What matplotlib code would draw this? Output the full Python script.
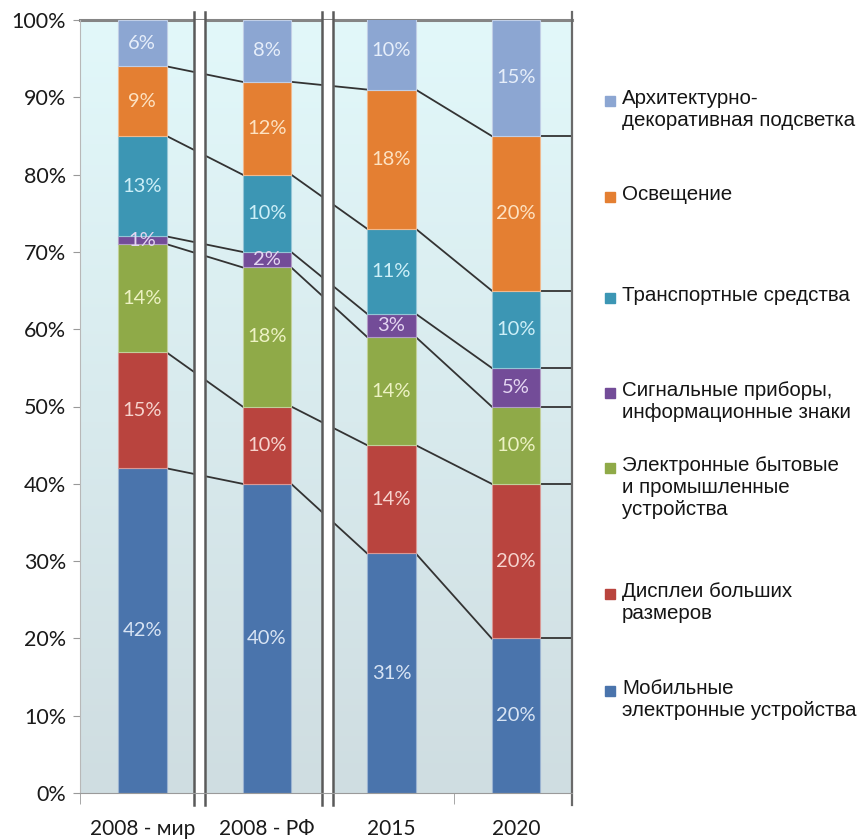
import numpy as np
import matplotlib.pyplot as plt
from matplotlib.colors import to_rgb

categories = ['2008 - мир', '2008 - РФ', '2015', '2020']

mobile = [42, 40, 31, 20]
displays = [15, 10, 14, 20]
electronics = [14, 18, 14, 10]
signals = [1, 2, 3, 5]
transport = [13, 10, 11, 10]
lighting = [9, 12, 18, 20]
architectural = [6, 8, 10, 15]

series_names = [
    'Мобильные\nэлектронные устройства',
    'Дисплеи больших\nразмеров',
    'Электронные бытовые\nи промышленные\nустройства',
    'Сигнальные приборы,\nинформационные знаки',
    'Транспортные средства',
    'Освещение',
    'Архитектурно-\nдекоративная подсветка',
]
series = [mobile, displays, electronics, signals, transport, lighting, architectural]
colors = ['#4A74AC', '#B9443E', '#8FAA48', '#734C98', '#3C96B4', '#E47F32', '#8CA6D2']
label_colors = ['#D8E4F4', '#F6D4CE', '#EDF2C4', '#E4D6F2', '#CDEFF8', '#FDE2C2', '#E6EEFA']

pct_font = ['Lato', 'Open Sans', 'DejaVu Sans']
legend_font = ['Liberation Sans', 'DejaVu Sans']

W, H = 861, 840
fig = plt.figure(figsize=(W / 100, H / 100), dpi=100)
ax = fig.add_axes([80 / W, 47 / H, 492 / W, 773 / H])

x0, x1 = -0.5, 3.45
ax.set_xlim(x0, x1)
ax.set_ylim(0, 100)
width = 0.39
x = np.arange(len(categories))

# soft vertical gradient behind the bars
top_c = np.array([226, 248, 250]) / 255
bot_c = np.array([207, 221, 225]) / 255
t = np.linspace(0, 1, 256)[:, None, None]
grad = top_c * (1 - t) + bot_c * t
ax.imshow(grad, extent=(x0, x1, 0, 100), aspect='auto', zorder=0)

# stacked bars
bottoms = np.zeros(len(categories))
bounds = []
for vals, col, lcol in zip(series, colors, label_colors):
    vals = np.array(vals, dtype=float)
    edge = tuple(0.55 * np.array(to_rgb(col)) + 0.45)
    ax.bar(x, vals, width, bottom=bottoms, color=col, edgecolor=edge,
           linewidth=0.8, zorder=4)
    for xi, b, v in zip(x, bottoms, vals):
        ax.text(xi, b + v / 2, f'{int(v)}%', ha='center', va='center',
                color=lcol, fontsize=14.5, family=pct_font, zorder=6)
    bottoms = bottoms + vals
    bounds.append(bottoms.copy())

# connector lines between neighbouring bars
for cum in bounds[:-1]:
    for i in range(len(categories) - 1):
        ax.plot([x[i] + width / 2, x[i + 1] - width / 2], [cum[i], cum[i + 1]],
                color='#333333', lw=1.3, zorder=2)
    ax.plot([x[-1] + width / 2, x1], [cum[-1], cum[-1]],
            color='#333333', lw=1.3, zorder=2)

# top line at 100%
ax.plot([x0, x1], [100, 100], color='#858585', lw=2.2, zorder=2, clip_on=False)

# axis breaks
gaps = [(0.415, 0.503), (1.443, 1.531)]
for g0, g1 in gaps:
    ax.axvspan(g0, g1, color='white', zorder=3)
    for gx in (g0, g1):
        ax.plot([gx, gx], [-1.6, 101], color='#5a5a5a', lw=1.8, zorder=5,
                clip_on=False)
ax.plot([x1, x1], [-1.6, 101], color='#6a6a6a', lw=1.6, zorder=5, clip_on=False)

for side in ('top', 'right'):
    ax.spines[side].set_visible(False)
ax.spines['left'].set_color('#b8b8b8')
ax.spines['bottom'].set_color('#9a9a9a')
ax.spines['left'].set_zorder(5)
ax.spines['bottom'].set_zorder(5)

ax.set_yticks(np.arange(0, 101, 10))
ax.set_yticklabels([f'{v}%' for v in range(0, 101, 10)], family=pct_font,
                   fontsize=15.5, color='#1a1a1a')
ax.tick_params(axis='y', direction='out', length=5, color='#999999', pad=5)

ax.set_xticks(x)
ax.set_xticklabels(categories, family=pct_font, fontsize=15, color='#1a1a1a')
ax.tick_params(axis='x', which='major', length=0, pad=19)
ax.set_xticks([x0, 2.5], minor=True)
ax.tick_params(axis='x', which='minor', direction='out', length=8,
               color='#999999')

# legend, top entry first
legend_y = [101, 197, 298, 393, 468, 594, 691]
for name, col, yy in zip(series_names[::-1], colors[::-1], legend_y):
    fig.patches.append(plt.Rectangle(((W - 256) / W, 1 - (yy + 5) / H),
                                     10 / W, 10 / H, color=col,
                                     transform=fig.transFigure))
    fig.text(622 / W, 1 - (yy - 12) / H, name, ha='left', va='top',
             fontsize=14.8, family=legend_font, color='#151515',
             linespacing=1.2)

fig.savefig('out.png', dpi=100)
